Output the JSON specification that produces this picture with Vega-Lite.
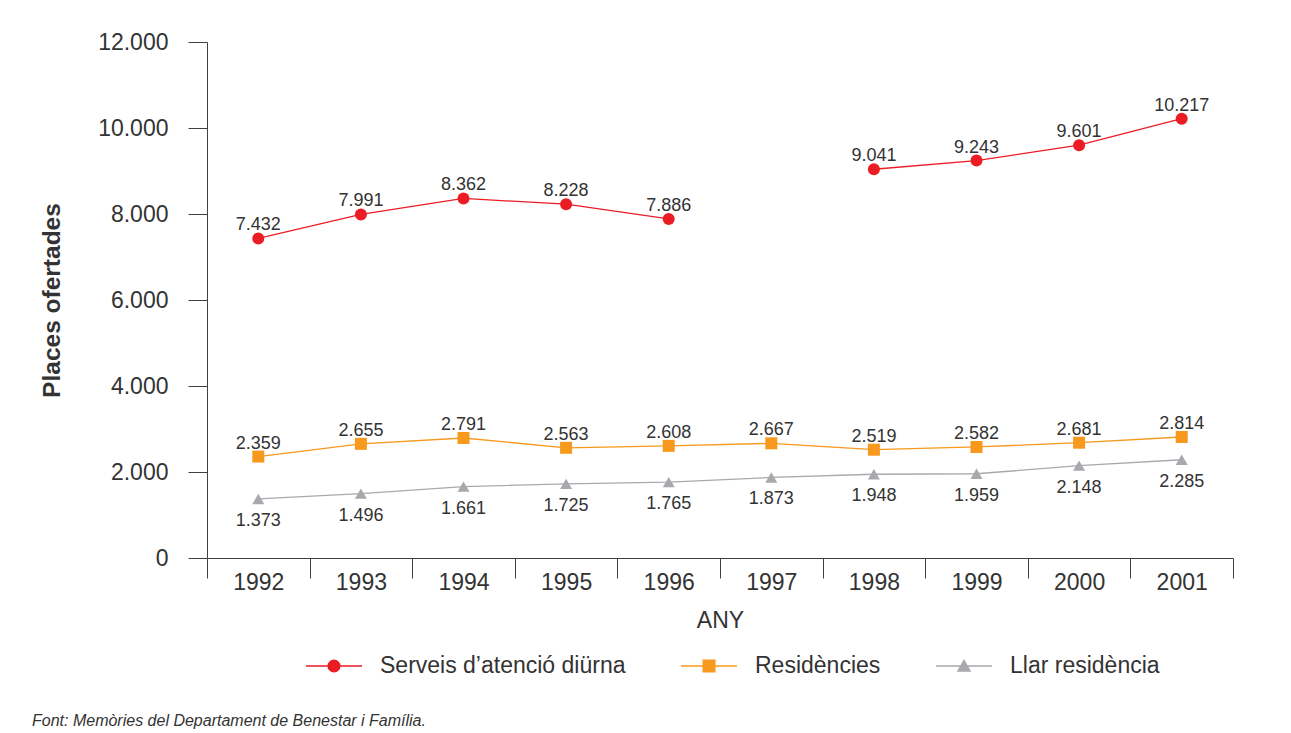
{
  "$schema": "https://vega.github.io/schema/vega-lite/v6.json",
  "width": 1026,
  "height": 516,
  "autosize": {"type": "none"},
  "padding": {"left": 207, "top": 42, "right": 58, "bottom": 175},
  "background": "white",
  "config": {
    "locale": {"number": {"decimal": ",", "thousands": ".", "grouping": [3], "currency": ["", " €"]}},
    "view": {"stroke": null},
    "font": "Liberation Sans",
    "axis": {
      "grid": false,
      "domainColor": "#404040",
      "tickColor": "#404040",
      "labelColor": "#333333",
      "titleColor": "#333333",
      "labelFont": "Liberation Sans",
      "titleFont": "Liberation Sans",
      "labelFontSize": 23,
      "titleFontSize": 23,
      "titleFontWeight": "normal"
    }
  },
  "title": {
    "text": "Font: Memòries del Departament de Benestar i Família.",
    "orient": "bottom",
    "anchor": "start",
    "frame": "group",
    "dx": -175,
    "offset": 35,
    "fontSize": 16,
    "fontStyle": "italic",
    "fontWeight": "normal",
    "color": "#333333",
    "font": "Liberation Sans"
  },
  "data": {
    "values": [
      {"year": 1992, "series": "Serveis d’atenció diürna", "value": 7432},
      {"year": 1993, "series": "Serveis d’atenció diürna", "value": 7991},
      {"year": 1994, "series": "Serveis d’atenció diürna", "value": 8362},
      {"year": 1995, "series": "Serveis d’atenció diürna", "value": 8228},
      {"year": 1996, "series": "Serveis d’atenció diürna", "value": 7886},
      {"year": 1997, "series": "Serveis d’atenció diürna", "value": null},
      {"year": 1998, "series": "Serveis d’atenció diürna", "value": 9041},
      {"year": 1999, "series": "Serveis d’atenció diürna", "value": 9243},
      {"year": 2000, "series": "Serveis d’atenció diürna", "value": 9601},
      {"year": 2001, "series": "Serveis d’atenció diürna", "value": 10217},
      {"year": 1992, "series": "Residències", "value": 2359},
      {"year": 1993, "series": "Residències", "value": 2655},
      {"year": 1994, "series": "Residències", "value": 2791},
      {"year": 1995, "series": "Residències", "value": 2563},
      {"year": 1996, "series": "Residències", "value": 2608},
      {"year": 1997, "series": "Residències", "value": 2667},
      {"year": 1998, "series": "Residències", "value": 2519},
      {"year": 1999, "series": "Residències", "value": 2582},
      {"year": 2000, "series": "Residències", "value": 2681},
      {"year": 2001, "series": "Residències", "value": 2814},
      {"year": 1992, "series": "Llar residència", "value": 1373},
      {"year": 1993, "series": "Llar residència", "value": 1496},
      {"year": 1994, "series": "Llar residència", "value": 1661},
      {"year": 1995, "series": "Llar residència", "value": 1725},
      {"year": 1996, "series": "Llar residència", "value": 1765},
      {"year": 1997, "series": "Llar residència", "value": 1873},
      {"year": 1998, "series": "Llar residència", "value": 1948},
      {"year": 1999, "series": "Llar residència", "value": 1959},
      {"year": 2000, "series": "Llar residència", "value": 2148},
      {"year": 2001, "series": "Llar residència", "value": 2285}
    ]
  },
  "layer": [
    {
      "mark": {"type": "line", "strokeWidth": 1.3, "invalid": "break-paths-filter-domains"},
      "encoding": {
        "x": {
          "field": "year", "type": "quantitative",
          "scale": {"domain": [1991.5, 2001.5], "nice": false, "zero": false},
          "axis": {
            "orient": "bottom",
            "values": [1991.5, 1992.5, 1993.5, 1994.5, 1995.5, 1996.5, 1997.5, 1998.5, 1999.5, 2000.5, 2001.5],
            "labels": false, "tickSize": 20, "title": null, "domain": true
          }
        },
        "y": {
          "field": "value", "type": "quantitative",
          "scale": {"domain": [0, 12000], "nice": false},
          "axis": {
            "values": [0, 2000, 4000, 6000, 8000, 10000, 12000],
            "format": ",d", "tickSize": 19, "labelPadding": 20,
            "title": "Places ofertades", "titleFontWeight": "bold", "titleFontSize": 24.5, "titlePadding": 33
          }
        },
        "color": {
          "field": "series", "type": "nominal",
          "scale": {
            "domain": ["Serveis d’atenció diürna", "Residències", "Llar residència"],
            "range": ["#ec1c24", "#f7991c", "#a7a9ac"]
          },
          "legend": {
            "orient": "none", "legendX": 98, "legendY": 595, "direction": "horizontal", "title": null,
            "labelFontSize": 23, "labelColor": "#333333", "labelFont": "Liberation Sans", "labelLimit": 0,
            "symbolSize": 3136, "labelOffset": 17, "columnPadding": 52, "symbolStrokeWidth": 1.3,
            "encode": {"symbols": {"update": {
              "shape": {"signal": "datum.index === 0 ? 'M-1,0H1M-0.21,0A0.21,0.21,0,1,1,0.21,0A0.21,0.21,0,1,1,-0.21,0Z' : datum.index === 1 ? 'M-1,0H1M-0.21,-0.21H0.21V0.21H-0.21Z' : 'M-1,0H1M-0.22,0.18L0,-0.2L0.22,0.18Z'"},
              "fill": {"signal": "scale('color', datum.value)"},
              "stroke": {"signal": "scale('color', datum.value)"},
              "opacity": {"value": 1}
            }}}
          }
        }
      }
    },
    {
      "transform": [{"filter": "datum.series === 'Serveis d’atenció diürna'"}],
      "mark": {"type": "point", "shape": "circle", "filled": true, "opacity": 1, "size": 144},
      "encoding": {
        "x": {
          "field": "year", "type": "quantitative",
          "axis": {
            "orient": "bottom",
            "values": [1992, 1993, 1994, 1995, 1996, 1997, 1998, 1999, 2000, 2001],
            "format": "d", "ticks": false, "tickSize": 0, "domain": false, "labelPadding": 13,
            "title": "ANY", "titlePadding": 15
          }
        },
        "y": {"field": "value", "type": "quantitative"},
        "color": {"field": "series", "type": "nominal"}
      }
    },
    {
      "transform": [{"filter": "datum.series === 'Residències'"}],
      "mark": {"type": "point", "shape": "square", "filled": true, "opacity": 1, "size": 144},
      "encoding": {
        "x": {"field": "year", "type": "quantitative", "axis": null},
        "y": {"field": "value", "type": "quantitative"},
        "color": {"field": "series", "type": "nominal"}
      }
    },
    {
      "transform": [{"filter": "datum.series === 'Llar residència'"}],
      "mark": {"type": "point", "shape": "triangle-up", "filled": true, "opacity": 1, "size": 144},
      "encoding": {
        "x": {"field": "year", "type": "quantitative", "axis": null},
        "y": {"field": "value", "type": "quantitative"},
        "color": {"field": "series", "type": "nominal"}
      }
    },
    {
      "transform": [{"filter": "datum.series !== 'Llar residència' && isValid(datum.value)"}],
      "mark": {"type": "text", "fontSize": 18, "color": "#333333", "baseline": "alphabetic", "dy": -8, "font": "Liberation Sans"},
      "encoding": {
        "x": {"field": "year", "type": "quantitative", "axis": null},
        "y": {"field": "value", "type": "quantitative"},
        "text": {"field": "value", "type": "quantitative", "format": ",d"}
      }
    },
    {
      "transform": [{"filter": "datum.series === 'Llar residència'"}],
      "mark": {"type": "text", "fontSize": 18, "color": "#333333", "baseline": "alphabetic", "dy": 27, "font": "Liberation Sans"},
      "encoding": {
        "x": {"field": "year", "type": "quantitative", "axis": null},
        "y": {"field": "value", "type": "quantitative"},
        "text": {"field": "value", "type": "quantitative", "format": ",d"}
      }
    }
  ],
  "resolve": {"axis": {"x": "independent"}}
}
